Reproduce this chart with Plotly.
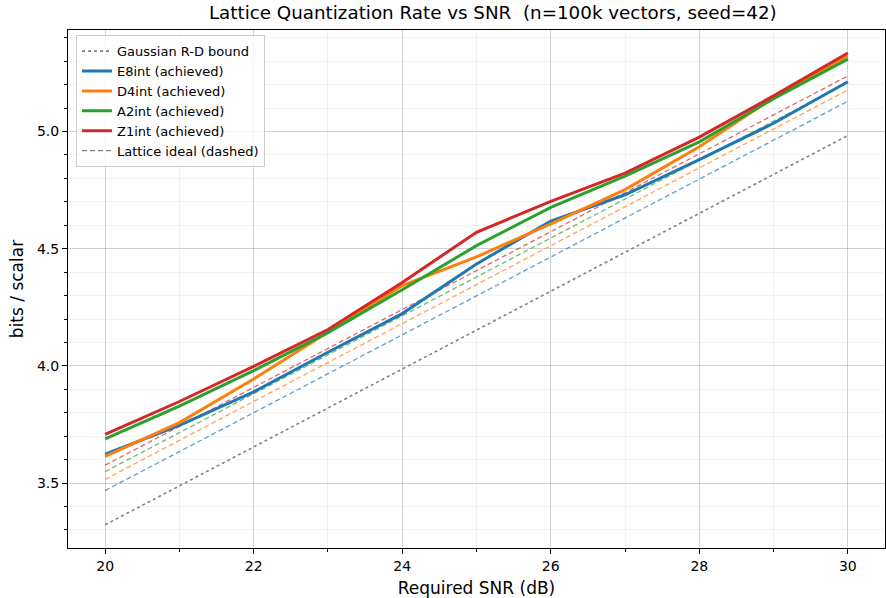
import plotly.graph_objects as go

snr_db = [20, 21, 22, 23, 24, 25, 26, 27, 28, 29, 30]

gaussian_rd = [3.322, 3.488, 3.654, 3.820, 3.986, 4.152, 4.318, 4.485, 4.651, 4.817, 4.983]

e8_achieved = [3.623, 3.746, 3.889, 4.058, 4.223, 4.435, 4.618, 4.730, 4.880, 5.035, 5.212]
d4_achieved = [3.614, 3.758, 3.944, 4.145, 4.343, 4.465, 4.606, 4.752, 4.935, 5.145, 5.322]
a2_achieved = [3.689, 3.828, 3.980, 4.142, 4.325, 4.513, 4.676, 4.810, 4.956, 5.140, 5.309]
z1_achieved = [3.708, 3.848, 3.998, 4.155, 4.356, 4.570, 4.702, 4.822, 4.976, 5.152, 5.335]

e8_ideal = [3.468, 3.634, 3.800, 3.966, 4.132, 4.298, 4.464, 4.631, 4.797, 4.963, 5.129]
d4_ideal = [3.516, 3.682, 3.848, 4.014, 4.180, 4.346, 4.512, 4.679, 4.845, 5.011, 5.177]
a2_ideal = [3.549, 3.715, 3.881, 4.047, 4.213, 4.379, 4.545, 4.712, 4.878, 5.044, 5.210]
z1_ideal = [3.576, 3.742, 3.908, 4.074, 4.240, 4.406, 4.572, 4.739, 4.905, 5.071, 5.237]

lattices = [
    ("E8int (achieved)", e8_achieved, e8_ideal, "#1f77b4", "rgba(31,119,180,0.7)"),
    ("D4int (achieved)", d4_achieved, d4_ideal, "#ff7f0e", "rgba(255,127,14,0.7)"),
    ("A2int (achieved)", a2_achieved, a2_ideal, "#2ca02c", "rgba(44,160,44,0.7)"),
    ("Z1int (achieved)", z1_achieved, z1_ideal, "#d62728", "rgba(214,39,40,0.7)"),
]

FONT = "DejaVu Sans"

fig = go.Figure()
fig.add_trace(go.Scatter(x=snr_db, y=gaussian_rd, mode="lines", name="Gaussian R-D bound",
                         line=dict(color="#808080", width=1.6, dash="dot")))
for name, ach, ideal, col, dcol in lattices:
    fig.add_trace(go.Scatter(x=snr_db, y=ideal, mode="lines", showlegend=False,
                             line=dict(color=dcol, width=1.3, dash="5px,3px")))
for name, ach, ideal, col, dcol in lattices:
    fig.add_trace(go.Scatter(x=snr_db, y=ach, mode="lines", name=name,
                             line=dict(color=col, width=3)))
fig.add_trace(go.Scatter(x=[None], y=[None], mode="lines", name="Lattice ideal (dashed)",
                         line=dict(color="#808080", width=1.3, dash="5px,3px")))

fig.update_layout(
    width=886, height=598,
    margin=dict(l=68, r=1, t=30, b=50),
    paper_bgcolor="white", plot_bgcolor="white",
    font=dict(family=FONT, size=14, color="black"),
    title=dict(text="Lattice Quantization Rate vs SNR  (n=100k vectors, seed=42)",
               xref="paper", x=0.52, xanchor="center", y=0.99, yanchor="top",
               font=dict(family=FONT, size=18.3, color="black")),
    showlegend=True,
    legend=dict(x=0.0098, y=0.99, xanchor="left", yanchor="top",
                bgcolor="rgba(255,255,255,0.8)", bordercolor="#cccccc", borderwidth=1,
                font=dict(family=FONT, size=13), tracegroupgap=0, itemwidth=30),
)
fig.update_xaxes(
    range=[19.5, 30.5], tickmode="array", tickvals=[20, 22, 24, 26, 28, 30],
    ticks="outside", ticklen=5, tickwidth=1, tickcolor="black",
    showline=True, linecolor="black", linewidth=1, mirror=True,
    showgrid=True, gridcolor="rgba(0,0,0,0.13)", gridwidth=1,
    minor=dict(dtick=1, tick0=0, ticks="outside", ticklen=3, tickcolor="black",
               showgrid=True, gridcolor="rgba(0,0,0,0.05)"),
    zeroline=False,
    title=dict(text="Required SNR (dB)", font=dict(family=FONT, size=17), standoff=9),
    tickfont=dict(family=FONT, size=14),
)
fig.update_yaxes(
    range=[3.223, 5.433], tickmode="array", tickvals=[3.5, 4.0, 4.5, 5.0],
    ticktext=["3.5", "4.0", "4.5", "5.0"],
    ticks="outside", ticklen=5, tickwidth=1, tickcolor="black",
    showline=True, linecolor="black", linewidth=1, mirror=True,
    showgrid=True, gridcolor="rgba(0,0,0,0.13)", gridwidth=1,
    minor=dict(dtick=0.1, tick0=0, ticks="outside", ticklen=3, tickcolor="black",
               showgrid=True, gridcolor="rgba(0,0,0,0.05)"),
    zeroline=False,
    title=dict(text="bits / scalar", font=dict(family=FONT, size=17), standoff=8),
    tickfont=dict(family=FONT, size=14),
)

fig.write_html("out.html")
